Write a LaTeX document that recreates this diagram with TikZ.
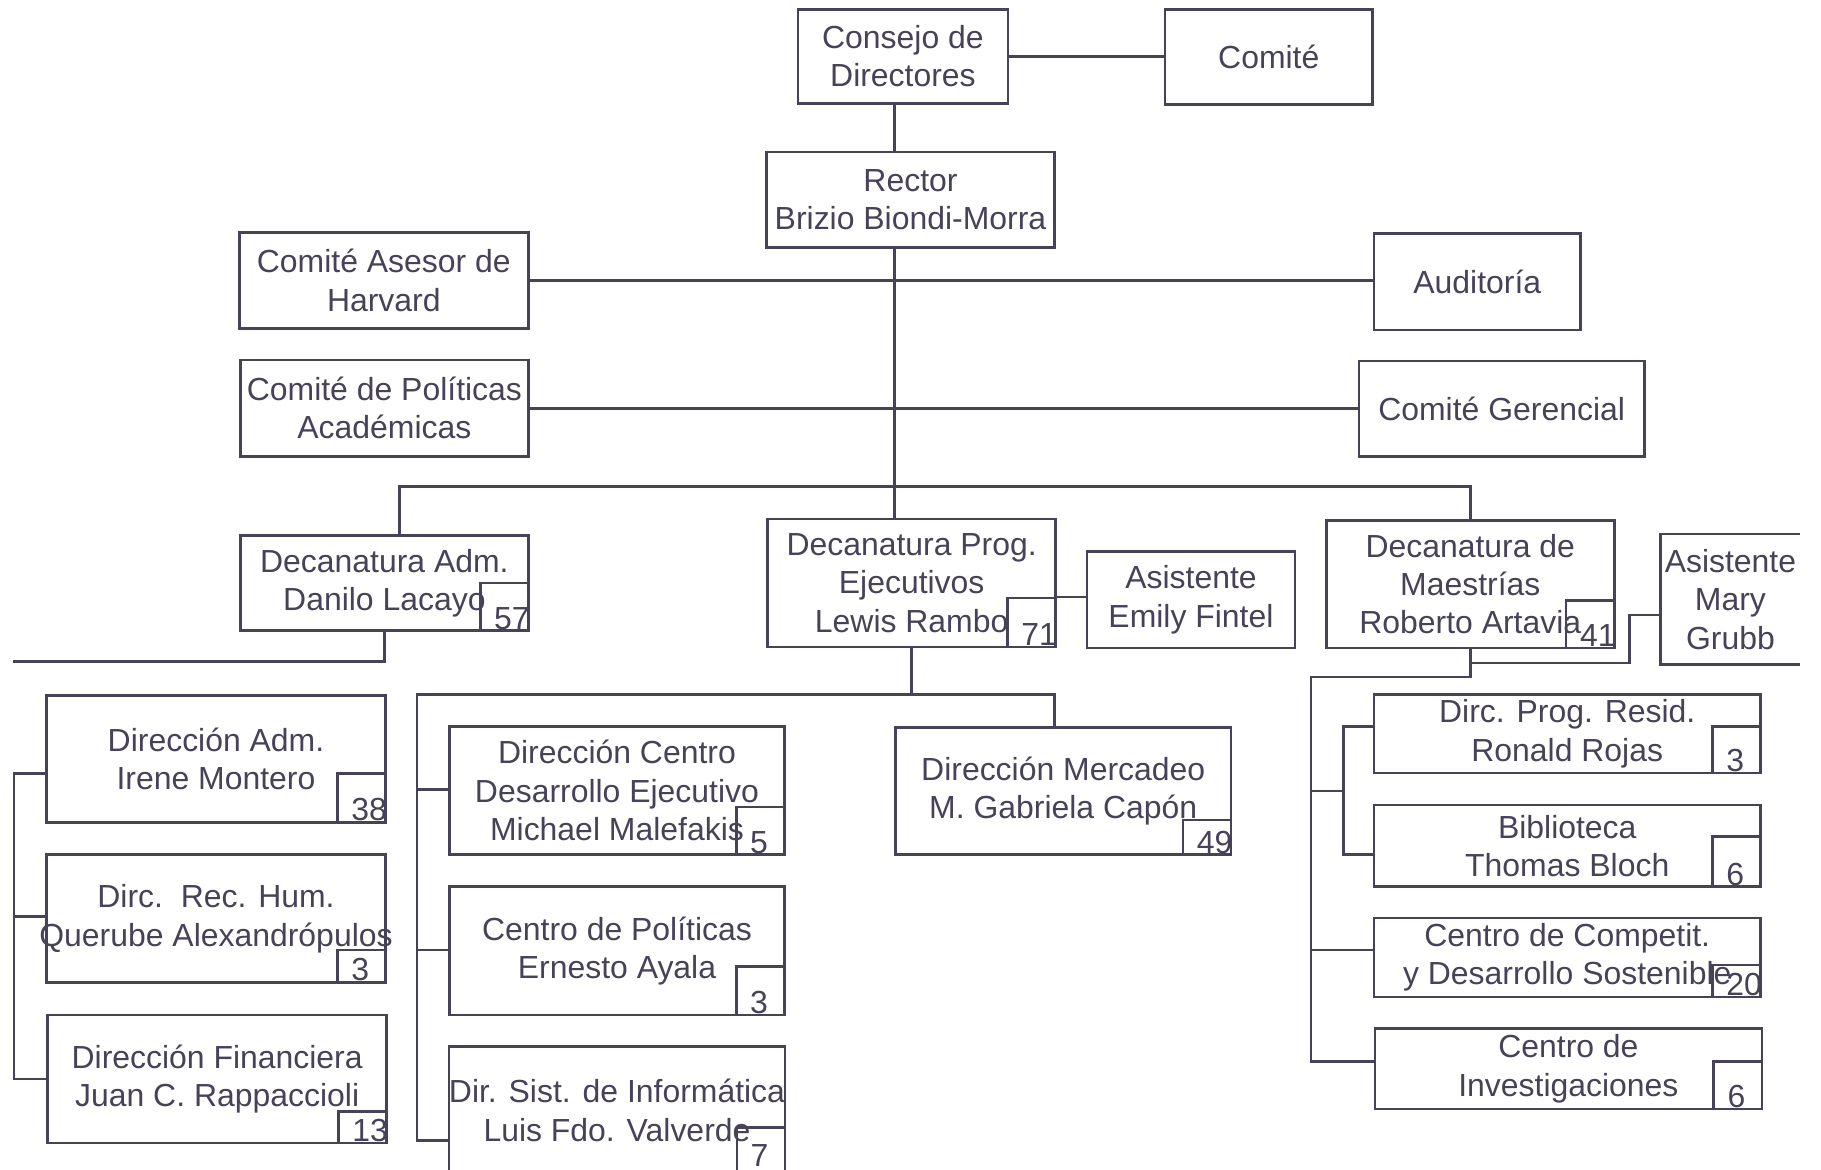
\documentclass[tikz,border=0pt]{standalone}
\usepackage{fontspec}
\setmainfont{Liberation Sans}
\usepackage{xcolor}
\definecolor{ink}{RGB}{72,66,88}

\newcommand{\numbox}[4][2.5pt]{%
  \node[nbox,minimum height=#3,anchor=south east] (#2-n) at (#2.south east) {};
  \node[ntext,yshift=#1] at (#2-n.south west) {#4};%
}

\begin{document}
\begin{tikzpicture}[x=1pt,y=-1pt,color=ink,line width=2.2pt,
  box/.style={draw,align=center,inner sep=0pt,font=\fontsize{27.5}{33}\selectfont},
  nbox/.style={draw,inner sep=0pt,minimum width=41.5},
  ntext/.style={anchor=base west,inner sep=0pt,xshift=12pt,font=\fontsize{27.5}{33}\selectfont}]
\fill[white] (0,0) rectangle (1568,1007);
\useasboundingbox (0,0) rectangle (1568,1007);

  \node[box,minimum width=181,minimum height=81] (consejo) at (777.5,48.5) {Consejo de\\Directores};
  \node[box,minimum width=179,minimum height=82] (comite) at (1092.5,49) {Comité};
  \node[box,minimum width=248,minimum height=82] (rector) at (784,172) {Rector\\Brizio Biondi-Morra};
  \node[box,minimum width=249,minimum height=83] (harvard) at (330.5,241.5) {Comité Asesor de\\Harvard};
  \node[box,minimum width=178,minimum height=83] (auditoria) at (1272,242.5) {Auditoría};
  \node[box,minimum width=248,minimum height=83] (academicas) at (331,351.5) {Comité de Políticas\\Académicas};
  \node[box,minimum width=246,minimum height=82] (gerencial) at (1293,352) {Comité Gerencial};

  \node[box,minimum width=248,minimum height=82] (decadm) at (331,502) {Decanatura Adm.\\Danilo Lacayo};
  \node[box,minimum width=248,minimum height=110] (decprog) at (785,502) {Decanatura Prog.\\Ejecutivos\\Lewis Rambo};
  \node[box,minimum width=179,minimum height=83] (fintel) at (1025.5,516.5) {Asistente\\Emily Fintel};
  \node[box,minimum width=248,minimum height=110] (decmae) at (1266,503) {Decanatura de\\Maestrías\\Roberto Artavia};
  \node[box,draw=none,minimum width=118,minimum height=110] (grubb) at (1490,516) {Asistente\\Mary\\Grubb};

  \node[box,minimum width=292,minimum height=109] (diradm) at (186,653.5) {Dirección Adm.\\Irene Montero};
  \node[box,minimum width=292,minimum height=110] (rechum) at (186,791) {Dirc.\ \ Rec. Hum.\\\makebox[0pt]{Querube Alexandrópulos}};
  \node[box,minimum width=292,minimum height=110] (financ) at (187,929) {Dirección Financiera\\Juan C. Rappaccioli};

  \node[box,minimum width=288.5,minimum height=110.5] (dircentro) at (531.25,680.75) {Dirección Centro\\Desarrollo Ejecutivo\\Michael Malefakis};
  \node[box,minimum width=288.5,minimum height=110.5] (cpolit) at (531.25,818.75) {Centro de Políticas\\Ernesto Ayala};
  \node[box,minimum width=288.5,minimum height=110] (dirsist) at (531.25,956) {Dir. Sist. de Informática\\Luis Fdo. Valverde};
  \node[box,minimum width=289,minimum height=109.5] (mercadeo) at (915.5,681.25) {Dirección Mercadeo\\M. Gabriela Capón};

  \node[box,minimum width=333,minimum height=67.5] (resid) at (1349.5,631.75) {Dirc. Prog. Resid.\\Ronald Rojas};
  \node[box,minimum width=333,minimum height=70.5] (biblio) at (1349.5,728.25) {Biblioteca\\Thomas Bloch};
  \node[box,minimum width=333,minimum height=68] (compet) at (1349.5,824.5) {Centro de Competit.\\y Desarrollo Sostenible};
  \node[box,minimum width=333,minimum height=69.5] (invest) at (1350.5,920.25) {Centro de\\Investigaciones};

  \numbox{decadm}{41}{57}
  \numbox{decprog}{42}{71}
  \numbox{decmae}{41}{41}
  \numbox{diradm}{42}{38}
  \numbox{rechum}{28}{3}
  \numbox{financ}{27}{13}
  \numbox{dircentro}{41}{5}
  \numbox{cpolit}{42}{3}
  \numbox[8pt]{dirsist}{40}{7}
  \numbox{mercadeo}{30}{49}
  \numbox{resid}{40}{3}
  \numbox{biblio}{43}{6}
  \numbox{compet}{27.5}{20}
  \numbox{invest}{41}{6}

  \coordinate (trunk) at (770,0);
  \coordinate (busl) at (344,419);
  \coordinate (cut) at (11,569.5);
  \coordinate (l1) at (12,666);
  \coordinate (l2) at (12,789);
  \coordinate (l3) at (12,929);
  \coordinate (m0) at (359,598);
  \coordinate (m1) at (359,680);
  \coordinate (m2) at (359,818);
  \coordinate (m3) at (359,982);
  \coordinate (md) at (908,598);
  \coordinate (r0) at (1129,583);
  \coordinate (r1) at (1129,681);
  \coordinate (r2) at (1129,818);
  \coordinate (r3) at (1129,914);
  \coordinate (s1) at (1157,625.5);
  \coordinate (s2) at (1157,736);
  \coordinate (g0) at (1403,571);
  \coordinate (g1) at (1403,529.5);

  \draw (consejo.east) -- (consejo.east -| comite.west);
  \draw (consejo.south -| trunk) -- (rector.north -| trunk);
  \draw (rector.south -| trunk) -- (decprog.north -| trunk);
  \draw (harvard.east) -- (harvard.east -| auditoria.west);
  \draw (academicas.east) -- (academicas.east -| gerencial.west);
  \draw (decadm.north -| busl) -- (busl) -- (busl -| decmae.north) -- (decmae.north);

  \draw (decadm.south) |- (cut);
  \draw (l1 -| diradm.west) -- (l1) -- (l3) -- (l3 -| financ.west);
  \draw (l2) -- (l2 -| rechum.west);

  \draw (decprog-n.north east) -- (decprog-n.north east -| fintel.west);
  \draw (decprog.south) -- (decprog.south |- m0);
  \draw (mercadeo.north -| md) -- (md) -- (m0) -- (m3) -- (m3 -| dirsist.west);
  \draw (m1) -- (m1 -| dircentro.west);
  \draw (m2) -- (m2 -| cpolit.west);

  \draw (decmae.south) -- (decmae.south |- r0) -- (r0) -- (r3) -- (r3 -| invest.west);
  \draw (decmae.south |- g0) -- (g0) -- (g1) -- (g1 -| grubb.west);
  \draw (grubb.north east) -- (grubb.north west) -- (grubb.south west) -- (grubb.south east);
  \draw (r1) -- (r1 -| s1);
  \draw (resid.west |- s1) -- (s1) -- (s2) -- (s2 -| biblio.west);
  \draw (r2) -- (r2 -| compet.west);
\end{tikzpicture}
\end{document}
